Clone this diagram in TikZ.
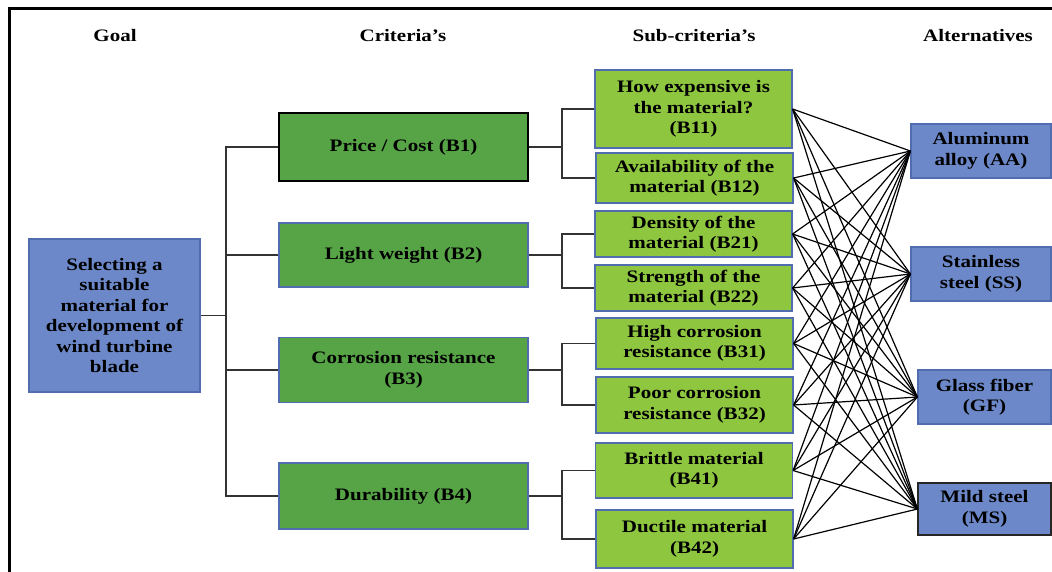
\documentclass[tikz,border=0pt]{standalone}
\usepackage{fontspec}
\setmainfont{Liberation Serif}[FakeStretch=1.2]
\usepackage{tikz}
\usepackage{xcolor}
\definecolor{goalblue}{RGB}{108,136,200}
\definecolor{boxedge}{RGB}{80,110,175}
\definecolor{critgreen}{RGB}{86,164,70}
\definecolor{subgreen}{RGB}{142,198,64}
\begin{document}
\begin{tikzpicture}[x=1pt,y=-1pt]

\tikzset{txt/.style = {font=\fontsize{17.5}{20.5}\selectfont\bfseries, align=center, inner sep=0pt}}
\tikzset{head/.style = {txt}}
\tikzset{bluebox/.style = {txt, draw=boxedge, fill=goalblue, line width=1.2pt}}
\tikzset{critbox/.style = {txt, draw=boxedge, fill=critgreen, line width=1.2pt, minimum width=249pt}}
\tikzset{subbox/.style = {txt, draw=boxedge, fill=subgreen, line width=1.2pt, minimum width=197pt}}
\tikzset{tree/.style = {draw=black!80, line width=1.3pt}}
\tikzset{fan/.style = {draw=black, line width=1.2pt}}

\useasboundingbox (0,0) rectangle (1052,572);
\draw[line width=3pt] (9,572) -- (9,9) -- (1052,9);

%headings
\node[head] (hgoal) at (115,36) {Goal};
\node[head] (hcrit) at (403,36) {Criteria’s};
\node[head] (hsub) at (694,36) {Sub-criteria’s};
\node[head] (halt) at (978,36) {Alternatives};

%goal
\node[bluebox, minimum width=171pt, minimum height=153pt] (goal) at (114.5,315.5)
  {Selecting a\\suitable\\material for\\development of\\wind turbine\\blade};

%criteria
\node[critbox, draw=black, minimum height=68pt] (b1) at (403.5,147) {Price / Cost (B1)};
\node[critbox, minimum height=64pt] (b2) at (403.5,255) {Light weight (B2)};
\node[critbox, minimum height=65pt] (b3) at (403.5,370) {Corrosion resistance\\(B3)};
\node[critbox, minimum height=66pt] (b4) at (403.5,496) {Durability (B4)};

%sub-criteria
\node[subbox, minimum height=78pt] (b11) at (693.5,109) {How expensive is\\the material?\\(B11)};
\node[subbox, minimum height=50pt] (b12) at (694.5,178) {Availability of the\\material (B12)};
\node[subbox, minimum height=46pt] (b21) at (693.5,234) {Density of the\\material (B21)};
\node[subbox, minimum height=46pt] (b22) at (693.5,288) {Strength of the\\material (B22)};
\node[subbox, minimum height=51pt] (b31) at (694.5,343.5) {High corrosion\\resistance (B31)};
\node[subbox, minimum height=56pt] (b32) at (694.5,405) {Poor corrosion\\resistance (B32)};
\node[subbox, minimum height=55pt] (b41) at (694,470.5) {Brittle material\\(B41)};
\node[subbox, minimum height=58pt] (b42) at (694.5,539) {Ductile material\\(B42)};

%alternatives
\node[bluebox, minimum width=140pt, minimum height=54pt] (aa) at (981,151) {Aluminum\\alloy (AA)};
\node[bluebox, minimum width=140pt, minimum height=54pt] (ss) at (981,274) {Stainless\\steel (SS)};
\node[bluebox, minimum width=133pt, minimum height=54pt] (gf) at (984.5,397) {Glass fiber\\(GF)};
\node[bluebox, draw=black!85, minimum width=133pt, minimum height=52pt] (ms) at (984.5,509) {Mild steel\\(MS)};

%tree lines
\coordinate (gx) at (226,0);
\coordinate (sx) at (562,0);
\draw[tree] (goal.east) -- (goal.east -| gx);
\draw[tree] (b1.west) -- (b1.west -| gx) -- (b4.west -| gx) -- (b4.west);
\draw[tree] (b2.west -| gx) -- (b2.west);
\draw[tree] (b3.west -| gx) -- (b3.west);
\foreach \c/\u/\v in {b1/b11/b12, b2/b21/b22, b3/b31/b32, b4/b41/b42}
{
  \draw[tree] (\c.east) -- (\c.east -| sx);
  \draw[tree] (\u.west) -- (\u.west -| sx) -- (\v.west -| sx) -- (\v.west);
}

%fan lines
\foreach \s in {b11,b12,b21,b22,b31,b32,b41,b42}
  \foreach \a in {aa,ss,gf,ms}
    \draw[fan] (\s.east) -- (\a.west);
\end{tikzpicture}
\end{document}
